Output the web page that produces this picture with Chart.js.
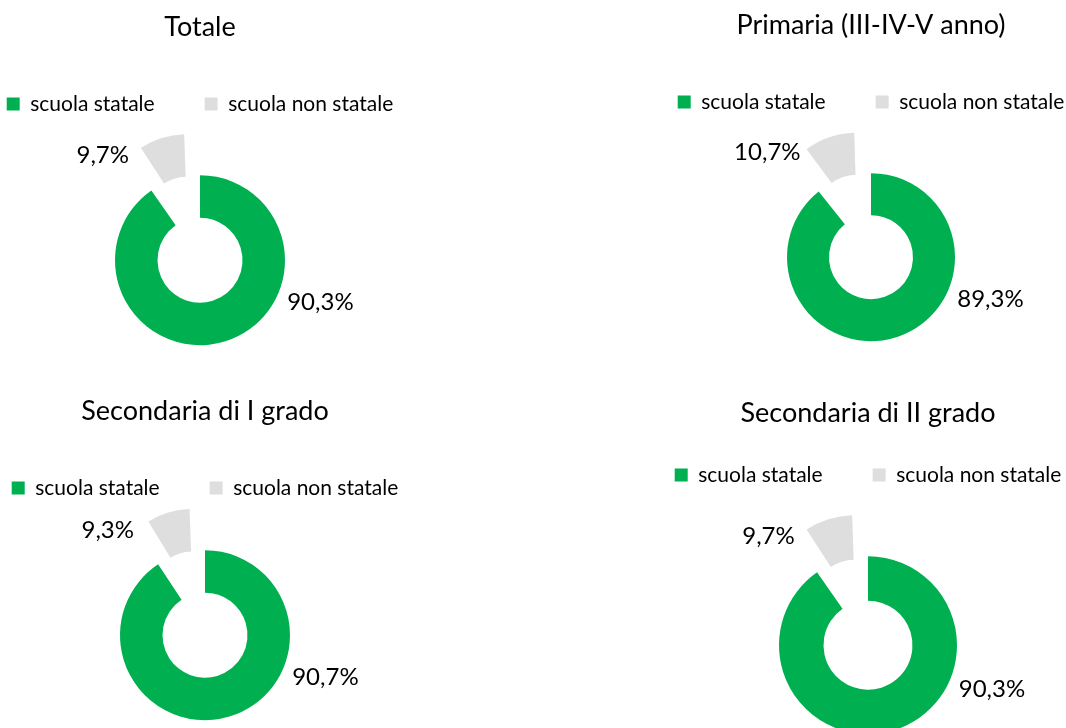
<!DOCTYPE html>
<html>
<head>
<meta charset="utf-8">
<script src="https://cdn.jsdelivr.net/npm/chart.js@4.4.1/dist/chart.umd.min.js"></script>
<style>
  html, body { margin: 0; padding: 0; background: #fff; }
  body { width: 1066px; height: 728px; position: relative; overflow: hidden; }
  canvas { position: absolute; }
</style>
</head>
<body>
<canvas id="c0"></canvas>
<canvas id="c1"></canvas>
<canvas id="c2"></canvas>
<canvas id="c3"></canvas>
<script>
// dati
const titles = ['Totale', 'Primaria (III-IV-V anno)', 'Secondaria di I grado', 'Secondaria di II grado'];
const categories = ['scuola statale', 'scuola non statale'];
const statale = [90.3, 89.3, 90.7, 90.3];
const nonStatale = [9.7, 10.7, 9.3, 9.7];

const colors = ['#00B050', '#DEDEDE'];
const fontFamily = "Lato, 'Open Sans', sans-serif";

// posizione dei pannelli
const panels = [
    { left: -100, top: 0, width: 600, height: 396, radius: 85, titleBottom: 0 },
    { left: 571, top: -2, width: 600, height: 394, radius: 84, titleBottom: 0 },
    { left: -95, top: 384, width: 600, height: 378, radius: 85, titleBottom: 0 },
    { left: 568, top: 386, width: 600, height: 409, radius: 89, titleBottom: -15 }
];

// lo spicchio staccato non deve crescere di raggio
const offsetFix = {
    id: 'offsetFix',
    afterDatasetUpdate(chart, args) {
        args.meta.data.forEach(arc => {
            const off = (arc.options.offset || 0) / 4;
            if (!off) return;
            const circ = arc.endAngle - arc.startAngle;
            const r = off * (1 - Math.sin(Math.min(Math.PI, circ)));
            arc.outerRadius -= r;
            arc.innerRadius -= r;
        });
    }
};

// etichette percentuali
const pctLabels = {
    id: 'pctLabels',
    afterDatasetsDraw(chart) {
        const meta = chart.getDatasetMeta(0);
        const ds = chart.data.datasets[0];
        const ctx = chart.ctx;
        const R = meta.controller.outerRadius;
        ctx.save();
        ctx.font = '24px ' + fontFamily;
        ctx.fillStyle = '#000';
        ctx.textBaseline = 'middle';
        meta.data.forEach((arc, i) => {
            const txt = ds.data[i].toFixed(1).replace('.', ',') + '%';
            const deg = i === 0 ? 116 : 326;
            const dist = i === 0 ? R + 12 : R + 42;
            const a = (deg - 90) * Math.PI / 180;
            ctx.textAlign = i === 0 ? 'left' : 'right';
            ctx.fillText(txt, arc.x + Math.cos(a) * dist, arc.y + Math.sin(a) * dist);
        });
        ctx.restore();
    }
};

function createDonut(idx) {
    const p = panels[idx];
    const canvas = document.getElementById('c' + idx);
    canvas.width = p.width;
    canvas.height = p.height;
    canvas.style.left = p.left + 'px';
    canvas.style.top = p.top + 'px';

    return new Chart(canvas, {
        type: 'doughnut',
        data: {
            labels: categories,
            datasets: [{
                data: [statale[idx], nonStatale[idx]],
                backgroundColor: colors,
                borderWidth: 0,
                offset: [0, 172]
            }]
        },
        options: {
            responsive: false,
            animation: false,
            events: [],
            radius: p.radius,
            cutout: '50%',
            layout: { padding: 0 },
            plugins: {
                title: {
                    display: true,
                    text: titles[idx],
                    color: '#000',
                    font: { family: fontFamily, size: 27, weight: 'normal' },
                    padding: { top: 11, bottom: p.titleBottom }
                },
                legend: {
                    display: true,
                    position: 'top',
                    labels: {
                        color: '#000',
                        font: { family: fontFamily, size: 21 },
                        boxWidth: 13,
                        boxHeight: 13,
                        padding: 50
                    }
                },
                tooltip: { enabled: false }
            }
        },
        plugins: [offsetFix, pctLabels]
    });
}

titles.forEach((t, i) => createDonut(i));
</script>
</body>
</html>
